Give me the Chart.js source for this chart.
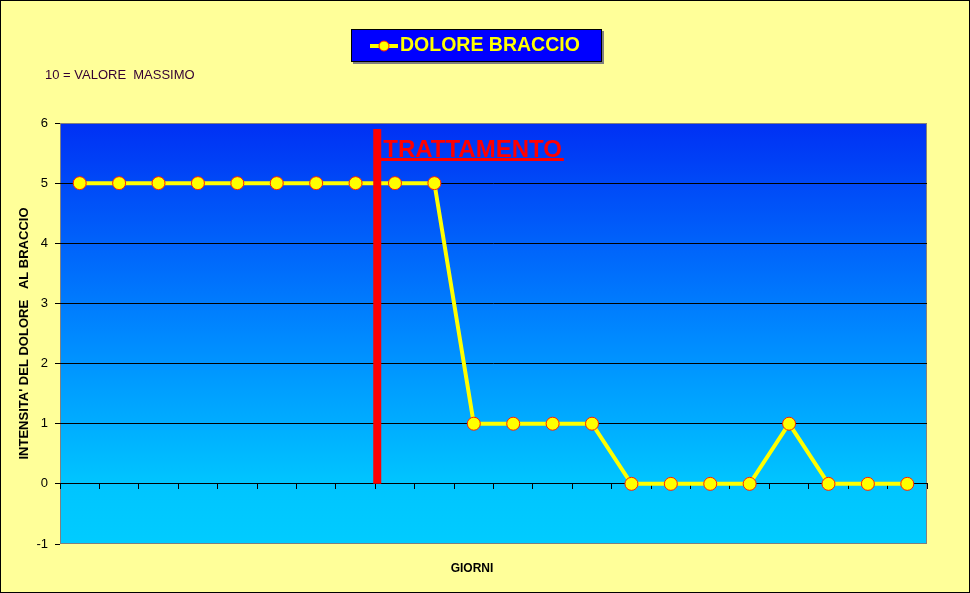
<!DOCTYPE html>
<html>
<head>
<meta charset="utf-8">
<script src="https://cdn.jsdelivr.net/npm/chart.js@4/dist/chart.umd.min.js"></script>
<style>
  html, body { margin: 0; padding: 0; background: #FFFF99; }
  #wrap { width: 970px; height: 593px; position: relative; }
</style>
</head>
<body>
<div id="wrap"><canvas id="painChart"></canvas></div>
<script>
// data
const giorni = ['1', '2', '3', '4', '5', '6', '7', '8', '9', '10', '11',
                '12', '13', '14', '15', '16', '17', '18', '19', '20', '21', '22'];
const dolore = [5, 5, 5, 5, 5, 5, 5, 5, 5, 5, 1, 1, 1, 1, 0, 0, 0, 0, 1, 0, 0, 0];
const yTicks = [-1, 0, 1, 2, 3, 4, 5, 6];
const serieLabel = 'DOLORE BRACCIO';
const yTitle = "INTENSITA' DEL DOLORE   AL BRACCIO";
const xTitle = 'GIORNI';
const noteText = '10 = VALORE  MASSIMO';
const trattLabel = 'TRATTAMENTO';
const trattGiorno = 7.55;   // between day 8 and day 9
const trattTop = 5.9;

const FONT = '"Liberation Sans", Arial, sans-serif';

const decorPlugin = {
    id: 'decor',
    beforeDraw(chart) {
        const c = chart.ctx; const a = chart.chartArea;
        c.save();
        c.fillStyle = '#FFFF99';
        c.fillRect(0, 0, chart.width, chart.height);
        c.strokeStyle = '#000'; c.lineWidth = 1;
        c.strokeRect(0.5, 0.5, chart.width - 1, chart.height - 1);
        const g = c.createLinearGradient(0, a.top, 0, a.bottom);
        g.addColorStop(0, '#0030F4');
        g.addColorStop(0.5, '#0088FF');
        g.addColorStop(0.85, '#00C4FF');
        g.addColorStop(1, '#00CCFF');
        c.fillStyle = g;
        c.fillRect(a.left, a.top, a.right - a.left, a.bottom - a.top);
        c.strokeStyle = '#808080';
        c.strokeRect(a.left + 0.5, a.top + 0.5, a.right - a.left - 1, a.bottom - a.top - 1);
        c.restore();
    },
    afterDatasetsDraw(chart) {
        const c = chart.ctx;
        const xs = chart.scales.x, ys = chart.scales.y;
        const lx = xs.getPixelForValue(trattGiorno);
        c.save();
        // treatment marker
        c.strokeStyle = '#FF0000'; c.lineWidth = 8;
        c.beginPath();
        c.moveTo(lx, ys.getPixelForValue(trattTop));
        c.lineTo(lx, ys.getPixelForValue(0));
        c.stroke();
        c.font = 'bold 24px ' + FONT;
        c.fillStyle = '#FF0000'; c.textBaseline = 'alphabetic'; c.textAlign = 'left';
        c.fillText(trattLabel, lx + 6, 157);
        const tw = c.measureText(trattLabel).width;
        c.lineWidth = 3;
        c.beginPath(); c.moveTo(lx, 159.5); c.lineTo(lx + 8 + tw, 159.5); c.stroke();
        c.restore();
    },
    afterDraw(chart) {
        const c = chart.ctx; const ds = chart.data.datasets[0];
        c.save();
        // legend box
        c.fillStyle = '#808080'; c.fillRect(353, 31, 251, 33);
        c.fillStyle = '#0000FF'; c.fillRect(351, 29, 251, 33);
        c.strokeStyle = '#000'; c.lineWidth = 1; c.strokeRect(351.5, 29.5, 250, 32);
        c.strokeStyle = ds.borderColor; c.lineWidth = 4;
        c.beginPath(); c.moveTo(370, 46); c.lineTo(398, 46); c.stroke();
        c.beginPath(); c.arc(384, 46, 5, 0, Math.PI * 2);
        c.fillStyle = ds.pointBackgroundColor; c.fill();
        c.strokeStyle = ds.pointBorderColor; c.lineWidth = 1; c.stroke();
        c.font = 'bold 19.5px ' + FONT; c.fillStyle = '#FFFF00';
        c.textAlign = 'left'; c.textBaseline = 'middle';
        c.fillText(ds.label, 400, 46);
        // note
        c.font = '13px ' + FONT; c.fillStyle = '#330033';
        c.fillText(noteText, 45, 75);
        // x title
        c.font = 'bold 12px ' + FONT; c.fillStyle = '#000'; c.textAlign = 'center';
        c.fillText(xTitle, 472, 569);
        c.restore();
    }
};

new Chart(document.getElementById('painChart'), {
    type: 'line',
    data: {
        labels: giorni,
        datasets: [{
            label: serieLabel,
            data: dolore,
            borderColor: '#FFFF00',
            borderWidth: 4,
            pointRadius: 6.5,
            pointBackgroundColor: '#FFFF00',
            pointBorderColor: '#FF2200',
            pointBorderWidth: 1,
            tension: 0
        }]
    },
    options: {
        responsive: true,
        maintainAspectRatio: false,
        animation: false,
        layout: { padding: { top: 123, right: 43, bottom: 49, left: 0 } },
        plugins: { legend: { display: false }, tooltip: { enabled: false } },
        scales: {
            x: {
                type: 'category',
                position: { y: 0 },
                offset: true,
                ticks: { display: false },
                grid: { offset: true, drawOnChartArea: false, drawTicks: true, tickLength: 5, color: '#000' },
                border: { display: true, color: '#000', width: 1 }
            },
            y: {
                min: yTicks[0],
                max: yTicks[yTicks.length - 1],
                afterBuildTicks: (s) => { s.ticks = yTicks.map(v => ({ value: v })); },
                afterFit: (s) => { s.width = 60; },
                ticks: { color: '#000', padding: 7, font: { family: FONT, size: 13 } },
                grid: {
                    color: (ctx) => (ctx.tick && (ctx.tick.value === -1 || ctx.tick.value === 6)) ? 'rgba(0,0,0,0)' : '#000',
                    tickColor: '#000',
                    tickLength: 5
                },
                border: { display: false },
                title: {
                    display: true,
                    text: yTitle,
                    color: '#000',
                    font: { family: FONT, size: 13, weight: 'bold' },
                    padding: { top: 17, bottom: 0 }
                }
            }
        }
    },
    plugins: [decorPlugin]
});
</script>
</body>
</html>
